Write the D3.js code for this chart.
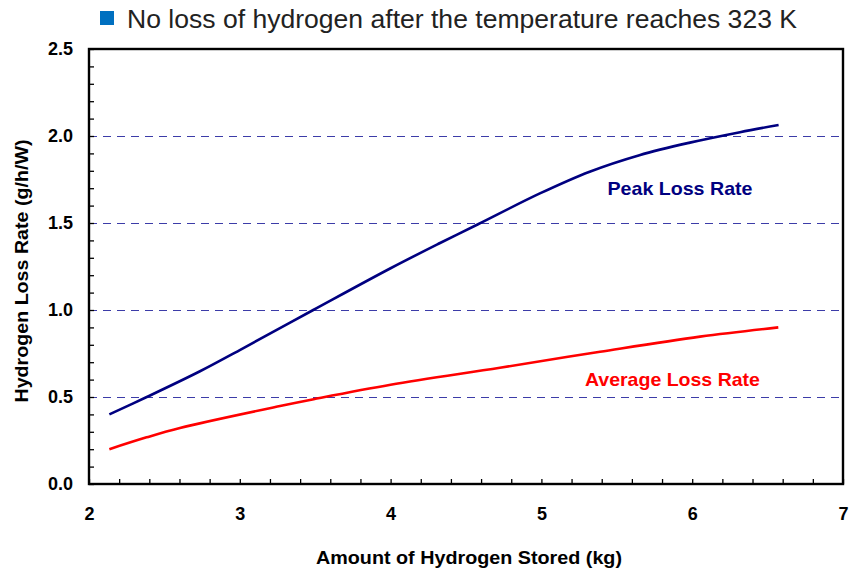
<!DOCTYPE html>
<meta charset="utf-8">
<script src="https://d3js.org/d3.v7.min.js"></script>
<title>Hydrogen Loss Rate</title>
<style>
  body { margin: 0; background: white; font-family: "Liberation Sans", Arial, sans-serif; }
  .tick text { font-weight: bold; font-size: 18px; fill: #000; }
</style>
<div id="chart"></div>
<script>
// values
var peakX = [2.135, 2.383, 2.736, 3.0, 3.487, 4.0, 4.328, 4.58, 4.99, 5.32, 5.65, 5.985, 6.317, 6.573];
var peakY = [0.40, 0.50, 0.648, 0.77, 1.0, 1.24, 1.385, 1.493, 1.67, 1.795, 1.89, 1.962, 2.022, 2.063];
var avgX = [2.135, 2.382, 2.603, 3.267, 3.49, 4.0, 4.725, 5.389, 6.052, 6.571];
var avgY = [0.20, 0.268, 0.322, 0.448, 0.487, 0.57, 0.668, 0.760, 0.847, 0.90];
var xTicks = [2, 3, 4, 5, 6, 7];
var yTicks = [0, 0.5, 1.0, 1.5, 2.0, 2.5];
var gridValues = [0.5, 1.0, 1.5, 2.0];

var W = 850, H = 572;
var margin = {top: 49, right: 7, bottom: 88, left: 89},
    width = W - margin.left - margin.right,
    height = H - margin.top - margin.bottom;

var svg = d3.select("#chart").append("svg")
    .attr("width", W).attr("height", H);

// title with blue square bullet
svg.append("rect").attr("x", 100).attr("y", 11).attr("width", 14).attr("height", 14)
    .attr("fill", "#0070c0");
svg.append("text").attr("x", 127).attr("y", 28)
    .attr("font-size", "25px").attr("fill", "#222")
    .attr("textLength", 670).attr("lengthAdjust", "spacingAndGlyphs")
    .text("No loss of hydrogen after the temperature reaches 323 K");

var g = svg.append("g").attr("transform", "translate(" + margin.left + "," + margin.top + ")");

var x = d3.scaleLinear().domain([2, 7]).range([0, width]);
var y = d3.scaleLinear().domain([0, 2.5]).range([height, 0]);

// dashed gridlines
g.selectAll(".grid").data(gridValues).enter().append("line")
    .attr("x1", 0).attr("x2", width)
    .attr("y1", function(d) { return y(d) + 0.5; }).attr("y2", function(d) { return y(d) + 0.5; })
    .attr("stroke", "#3c3ca8").attr("stroke-width", 1)
    .attr("stroke-dasharray", "8,6");

// minor ticks pointing inward
g.append("g").call(d3.axisRight(y).tickValues(d3.range(0, 2.51, 0.1)).tickSize(5).tickFormat(""))
    .call(function(a) { a.select(".domain").remove(); a.selectAll("line").attr("stroke-width", 1.3); });
g.append("g").attr("transform", "translate(0," + height + ")")
    .call(d3.axisTop(x).tickValues(d3.range(2, 7.01, 0.2)).tickSize(5).tickFormat(""))
    .call(function(a) { a.select(".domain").remove(); a.selectAll("line").attr("stroke-width", 1.3); });

// tick labels
g.append("g").call(d3.axisLeft(y).tickValues(yTicks).tickSize(0).tickPadding(16).tickFormat(d3.format(".1f")))
    .call(function(a) { a.select(".domain").remove(); });
g.append("g").attr("transform", "translate(0," + height + ")")
    .call(d3.axisBottom(x).tickValues(xTicks).tickSize(0).tickPadding(23).tickFormat(d3.format("d")))
    .call(function(a) { a.select(".domain").remove(); });

// frame
g.append("rect").attr("width", width).attr("height", height)
    .attr("fill", "none").attr("stroke", "#000").attr("stroke-width", 2.4);

var line = d3.line().curve(d3.curveCatmullRom.alpha(0.5))
    .x(function(d) { return x(d[0]); }).y(function(d) { return y(d[1]); });

g.append("path").datum(d3.zip(avgX, avgY)).attr("d", line)
    .attr("fill", "none").attr("stroke", "#ff0000").attr("stroke-width", 2.6);
g.append("path").datum(d3.zip(peakX, peakY)).attr("d", line)
    .attr("fill", "none").attr("stroke", "#000080").attr("stroke-width", 2.6);

// series labels
g.append("text").attr("x", x(5.919)).attr("y", y(1.661)).attr("text-anchor", "middle")
    .attr("font-weight", "bold").attr("font-size", "19px").attr("fill", "#000080")
    .attr("textLength", 145).attr("lengthAdjust", "spacingAndGlyphs")
    .text("Peak Loss Rate");
g.append("text").attr("x", x(5.869)).attr("y", y(0.563)).attr("text-anchor", "middle")
    .attr("font-weight", "bold").attr("font-size", "19px").attr("fill", "#ff0000")
    .attr("textLength", 175).attr("lengthAdjust", "spacingAndGlyphs")
    .text("Average Loss Rate");

// axis titles
svg.append("text").attr("x", 469).attr("y", 564).attr("text-anchor", "middle")
    .attr("font-weight", "bold").attr("font-size", "18px")
    .attr("textLength", 306).attr("lengthAdjust", "spacingAndGlyphs")
    .text("Amount of Hydrogen Stored (kg)");
svg.append("text").attr("transform", "translate(28,271) rotate(-90)").attr("text-anchor", "middle")
    .attr("font-weight", "bold").attr("font-size", "18px")
    .attr("textLength", 263).attr("lengthAdjust", "spacingAndGlyphs")
    .text("Hydrogen Loss Rate (g/h/W)");
</script>
